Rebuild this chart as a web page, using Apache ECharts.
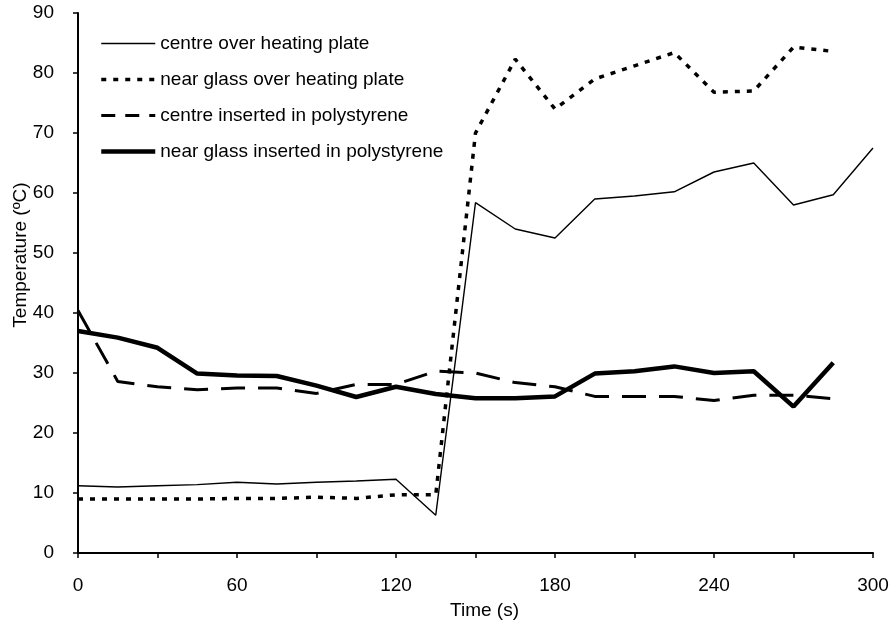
<!DOCTYPE html>
<html>
<head>
<meta charset="utf-8">
<script src="https://cdn.jsdelivr.net/npm/echarts@6/dist/echarts.min.js"></script>
<style>
  html, body { margin: 0; padding: 0; background: #fff; }
  #chart { width: 893px; height: 629px; }
</style>
</head>
<body>
<div id="chart"></div>
<script>
// time points (s)
const times = [0, 15, 30, 45, 60, 75, 90, 105, 120, 135, 150, 165, 180, 195, 210, 225, 240, 255, 270, 285, 300];

// temperatures (ºC)
const centreHeating = [11.2, 11.0, 11.2, 11.4, 11.8, 11.5, 11.8, 12.0, 12.3, 6.3, 58.4, 54.0, 52.5, 59.0, 59.5, 60.2, 63.5, 65.0, 58.0, 59.7, 67.5];
const glassHeating = [9.0, 9.0, 9.0, 9.0, 9.1, 9.1, 9.3, 9.1, 9.7, 9.7, 70.0, 82.3, 74.0, 79.0, 81.2, 83.4, 76.8, 77.0, 84.3, 83.6];
const centrePoly = [40.4, 28.6, 27.7, 27.2, 27.5, 27.5, 26.6, 28.1, 28.1, 30.3, 30.0, 28.4, 27.7, 26.1, 26.1, 26.1, 25.4, 26.3, 26.3, 25.7];
const glassPoly = [37.0, 35.9, 34.2, 29.9, 29.6, 29.5, 27.9, 26.0, 27.7, 26.5, 25.8, 25.8, 26.1, 29.9, 30.3, 31.1, 30.0, 30.3, 24.4, 31.7];

const seriesNames = [
    'centre over heating plate',
    'near glass over heating plate',
    'centre inserted in polystyrene',
    'near glass inserted in polystyrene'
];

const pairs = (vals) => vals.map((v, i) => [times[i], v]);

const font = 'Liberation Sans, Arial, Helvetica, sans-serif';
const lineStyles = [
    { color: '#000', width: 1.4, type: 'solid' },
    { color: '#000', width: 3.5, type: [5, 7] },
    { color: '#000', width: 3, type: [24, 13] },
    { color: '#000', width: 4.5, type: 'solid' }
];
// the legend samples are short, so the dashes are drawn a bit shorter there
const legendStyles = [
    { color: '#000', width: 1.6, type: 'solid' },
    { color: '#000', width: 3.5, type: [5, 7] },
    { color: '#000', width: 3, type: [14, 10] },
    { color: '#000', width: 4.5, type: 'solid' }
];

const chart = echarts.init(document.getElementById('chart'));

const option = {
    backgroundColor: '#fff',
    animation: false,
    grid: { left: 78, right: 20, top: 13, bottom: 76, outerBoundsMode: 'none', containLabel: false },
    legend: {
        orient: 'vertical',
        left: 94,
        top: 29,
        itemWidth: 54,
        itemHeight: 14,
        itemGap: 17,
        itemStyle: { color: 'rgba(0,0,0,0)', opacity: 0 },
        textStyle: { color: '#000', fontSize: 19, fontFamily: font },
        data: seriesNames.map((n, i) => ({ name: n, lineStyle: legendStyles[i] }))
    },
    xAxis: {
        type: 'value',
        min: 0,
        max: 300,
        interval: 30,
        name: 'Time (s)',
        nameLocation: 'middle',
        nameGap: 48,
        nameMoveOverlap: false,
        nameTextStyle: { color: '#000', fontSize: 19, fontFamily: font, padding: [0, 0, 0, 18] },
        axisLine: { lineStyle: { color: '#000', width: 2 } },
        axisTick: { show: true, length: 5, lineStyle: { color: '#000', width: 1.5 } },
        axisLabel: {
            color: '#000', fontSize: 19, fontFamily: font, margin: 23,
            formatter: (v) => (v % 60 === 0 ? String(v) : '')
        },
        splitLine: { show: false }
    },
    yAxis: {
        type: 'value',
        min: 0,
        max: 90,
        interval: 10,
        name: 'Temperature (ºC)',
        nameLocation: 'middle',
        nameGap: 48,
        nameMoveOverlap: false,
        nameTextStyle: { color: '#000', fontSize: 19, fontFamily: font, padding: [0, 0, 0, 56] },
        axisLine: { show: true, lineStyle: { color: '#000', width: 2 } },
        axisTick: { show: true, length: 5, lineStyle: { color: '#000', width: 1.5 } },
        axisLabel: { color: '#000', fontSize: 19, fontFamily: font, margin: 24 },
        splitLine: { show: false }
    },
    series: [
        { name: seriesNames[0], type: 'line', data: pairs(centreHeating), symbol: 'none', lineStyle: lineStyles[0], itemStyle: { color: '#000' } },
        { name: seriesNames[1], type: 'line', data: pairs(glassHeating), symbol: 'none', lineStyle: lineStyles[1], itemStyle: { color: '#000' } },
        { name: seriesNames[2], type: 'line', data: pairs(centrePoly), symbol: 'none', lineStyle: lineStyles[2], itemStyle: { color: '#000' } },
        { name: seriesNames[3], type: 'line', data: pairs(glassPoly), symbol: 'none', lineStyle: lineStyles[3], itemStyle: { color: '#000' } }
    ]
};

chart.setOption(option);
</script>
</body>
</html>
